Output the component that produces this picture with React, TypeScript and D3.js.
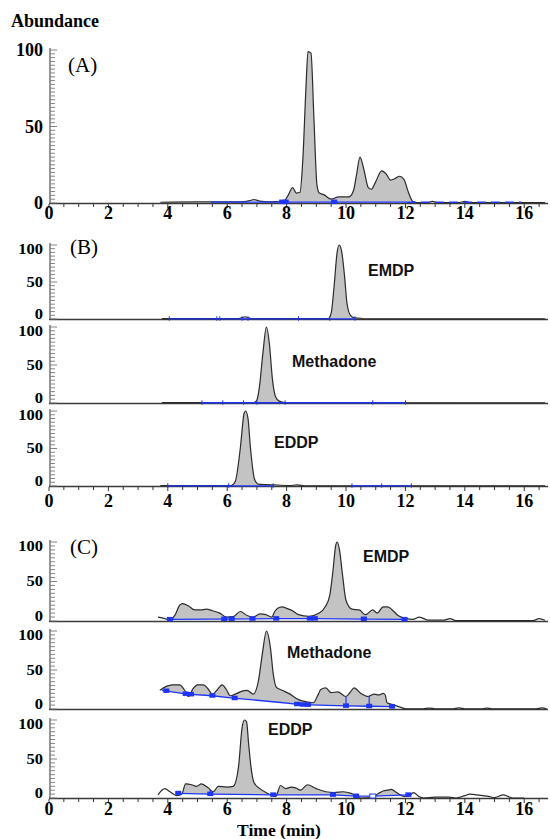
import * as d3 from "d3";

type Pt = [number, number];

// ---- data: retention time (min), abundance (%) ----
const xTicks = [0, 2, 4, 6, 8, 10, 12, 14, 16];
const yTicks = [0, 50, 100];

const traceA: Pt[] = [
  [3.75, 0.5], [5.0, 0.8], [6.5, 0.8], [6.75, 1.5], [6.9, 2.2], [7.1, 1.2], [7.4, 0.8], [7.9, 1],
  [8.05, 5], [8.2, 10], [8.33, 6.5], [8.45, 7], [8.55, 30], [8.65, 75], [8.72, 99], [8.82, 98],
  [8.92, 55], [9.02, 12], [9.1, 6.5], [9.25, 5.5], [9.5, 2.5], [9.75, 4], [10.1, 4], [10.25, 8],
  [10.35, 18], [10.47, 30], [10.6, 22], [10.75, 10], [10.85, 9], [11.0, 14], [11.2, 21], [11.35, 19],
  [11.5, 15], [11.65, 16], [11.8, 17.5], [11.95, 15.5], [12.1, 7], [12.25, 1], [12.4, 0.3],
  [12.75, 0.3], [12.9, 1], [13.1, 0.3], [13.8, 0.3], [14.0, 1], [14.2, 0.3], [16.7, 0.3],
];
const baseA: Pt[][] = [[[5.45, 0.6], [12.05, 0.6]]];
const dashA: Pt[] = [[12.05, 0.5], [15.9, 0.5]];
const marksA = [7.85, 7.97, 9.6];
const fillA = [7.9, 12.35];

const traceB1: Pt[] = [
  [3.8, 0.5], [6.35, 0.5], [6.5, 2], [6.6, 3], [6.7, 2], [6.85, 0.5], [9.4, 0.5], [9.5, 8],
  [9.6, 45], [9.7, 90], [9.77, 100], [9.85, 92], [9.95, 58], [10.03, 22], [10.15, 5], [10.3, 1.5],
  [10.5, 1], [10.6, 0.3], [16.7, 0.3],
];
const baseB1: Pt[][] = [[[4.05, 0.3], [10.3, 0.3]]];
const marksB1 = [4.05, 5.65, 5.75, 6.5, 6.7, 8.4, 9.45, 10.3];
const fillB1 = [9.42, 10.6];

const traceB2: Pt[] = [
  [3.8, 0.5], [6.9, 0.5], [7.0, 4], [7.08, 20], [7.2, 65], [7.32, 100], [7.42, 78], [7.52, 32],
  [7.62, 9], [7.75, 2.5], [7.95, 0.5], [16.7, 0.3],
];
const baseB2: Pt[][] = [[[5.15, 0.3], [12.0, 0.3]]];
const marksB2 = [5.15, 5.85, 6.55, 7.0, 7.95, 10.9, 12.0];
const fillB2 = [6.95, 7.95];

const traceB3: Pt[] = [
  [3.75, 0.5], [6.12, 0.5], [6.27, 6], [6.44, 50], [6.57, 97], [6.62, 100], [6.7, 90], [6.78, 52],
  [6.92, 9], [7.05, 2.5], [7.3, 1.8], [7.6, 1.5], [8.1, 0.5], [8.35, 1.5], [8.6, 0.3], [16.7, 0.3],
];
const baseB3: Pt[][] = [[[4.0, 0.3], [7.55, 0.3]], [[10.2, 0.3], [12.2, 0.3]]];
const marksB3 = [4.0, 6.05, 7.55, 10.2, 11.2, 12.2];
const fillB3 = [6.1, 7.55];

const traceC1: Pt[] = [
  [3.67, 5], [3.9, 3], [4.07, 1], [4.25, 8], [4.4, 20], [4.5, 22], [4.7, 19], [4.9, 14], [5.1, 14],
  [5.3, 15], [5.5, 13], [5.75, 10], [5.97, 5], [6.2, 5.5], [6.44, 12], [6.67, 7], [6.88, 5], [7.1, 9],
  [7.3, 8], [7.5, 5], [7.6, 12], [7.7, 16], [7.85, 18], [8.0, 16], [8.2, 13], [8.4, 8], [8.75, 6],
  [9.1, 10], [9.3, 18], [9.45, 32], [9.55, 60], [9.65, 95], [9.7, 100], [9.78, 90], [9.88, 59],
  [10.0, 26], [10.2, 15], [10.45, 14], [10.65, 8], [10.9, 14], [11.05, 10], [11.25, 18], [11.4, 18],
  [11.53, 15], [11.75, 7], [12.03, 3], [12.25, 2], [12.47, 5], [12.77, 1], [13.3, 1], [13.5, 3],
  [13.7, 0.5], [16.3, 0.5], [16.5, 3], [16.7, 1],
];
const baseC1: Pt[][] = [[[4.07, 2], [7.65, 3], [9.0, 3], [10.6, 2.5], [11.97, 2]]];
const marksC1 = [4.07, 5.9, 6.15, 6.85, 7.65, 8.78, 8.95, 10.6, 11.97];
const fillC1 = [4.07, 12.0];

const traceC2: Pt[] = [
  [3.73, 24], [3.95, 29], [4.15, 31], [4.4, 31], [4.55, 25], [4.7, 16], [4.85, 26], [5.0, 31],
  [5.2, 31], [5.35, 26], [5.5, 19], [5.65, 24], [5.83, 31], [5.97, 25], [6.1, 17], [6.33, 20],
  [6.5, 23], [6.67, 24], [6.88, 19], [7.05, 36], [7.18, 70], [7.32, 100], [7.45, 80], [7.55, 45],
  [7.65, 28], [7.85, 24], [8.07, 20], [8.4, 12], [8.7, 9], [8.9, 8], [9.08, 20], [9.15, 25],
  [9.32, 27], [9.5, 21], [9.72, 22], [10.0, 16], [10.15, 22], [10.27, 27], [10.5, 20], [10.74, 16],
  [10.95, 19], [11.1, 18], [11.25, 20], [11.32, 18], [11.38, 8], [11.63, 5], [11.85, 2], [12.03, 0.3],
  [12.6, 0.3], [12.8, 1.2], [13.0, 0.3], [13.6, 0.3], [13.8, 1.5], [14.0, 0.3], [14.6, 0.3],
  [14.75, 1.2], [14.9, 0.3], [16.4, 0.3], [16.6, 1.5], [16.75, 0.3],
];
const baseC2: Pt[][] = [[[3.8, 24], [4.65, 19], [5.5, 17], [6.2, 14], [7.63, 9], [8.5, 5.5], [10.0, 4], [10.8, 3.5], [11.6, 3]]];
const marksC2 = [3.95, 4.6, 4.78, 5.5, 6.25, 8.35, 8.55, 8.72, 10.0, 10.78, 11.55];
const splitsC2 = [10.0, 10.78];
const fillC2 = [3.8, 11.6];

const traceC3: Pt[] = [
  [3.67, 4], [3.9, 12], [4.07, 8], [4.3, 3], [4.47, 5], [4.6, 18], [4.8, 17], [4.97, 15], [5.13, 18],
  [5.36, 13], [5.53, 8], [5.7, 15], [6.0, 14], [6.2, 15], [6.38, 40], [6.5, 90], [6.58, 100],
  [6.65, 98], [6.72, 70], [6.8, 40], [6.9, 20], [7.1, 12], [7.35, 6], [7.63, 2], [7.8, 16],
  [7.97, 12], [8.15, 14], [8.3, 13], [8.47, 10], [8.7, 17], [9.0, 12], [9.32, 8], [9.6, 7], [9.9, 8],
  [10.17, 6], [10.34, 3], [10.5, 0], [10.9, 1], [11.1, 6], [11.25, 9], [11.4, 10], [11.53, 11],
  [11.7, 7], [11.97, 2], [12.1, 2], [12.27, 7], [12.45, 2], [12.6, 0], [13.0, 1], [13.45, 1],
  [13.7, 0], [14.0, 3], [14.17, 5], [14.4, 4], [14.6, 3], [14.8, 2], [15.0, 0.5], [15.3, 4],
  [15.45, 2], [15.6, 0], [16.0, 0],
];
const baseC3: Pt[][] = [[[4.35, 6], [5.43, 5], [7.55, 4], [9.56, 4], [10.34, 2.5], [10.9, 2.5], [12.1, 4]]];
const marksC3 = [4.35, 5.43, 7.55, 9.56, 10.34, 12.1];
const openMarksC3 = [10.9];
const splitsC3 = [5.43, 9.56];
const fillC3 = [4.35, 12.1];

// ---- layout ----
const W = 550;
const H = 839;
const x = d3.scaleLinear().domain([0, 16.8]).range([49, 548]);
const BLUE = "#1f35f5";
const serif = "'Liberation Serif', 'Times New Roman', serif";
const sans = "'Liberation Sans', Arial, sans-serif";

type Panel = {
  id: string;
  y0: number;
  y100: number;
  trace: Pt[];
  base: Pt[][];
  dash?: Pt[];
  marks: number[];
  openMarks?: number[];
  splits?: number[];
  fill: number[];
  markStyle: "square" | "tick";
  minor: number;
  stacked: boolean; // shares its frame with neighbouring panels
  axisLabelY?: number;
  name?: string;
  nameX?: number;
  nameY?: number;
};

const panels: Panel[] = [
  { id: "A", y0: 203, y100: 50, trace: traceA, base: baseA, dash: dashA, marks: marksA, fill: fillA, markStyle: "square", minor: 2.5, stacked: false, axisLabelY: 219 },
  { id: "B1", y0: 319, y100: 245, trace: traceB1, base: baseB1, marks: marksB1, fill: fillB1, markStyle: "tick", minor: 5, stacked: true, name: "EMDP", nameX: 368, nameY: 276 },
  { id: "B2", y0: 403, y100: 327, trace: traceB2, base: baseB2, marks: marksB2, fill: fillB2, markStyle: "tick", minor: 5, stacked: true, name: "Methadone", nameX: 292, nameY: 367 },
  { id: "B3", y0: 486, y100: 411, trace: traceB3, base: baseB3, marks: marksB3, fill: fillB3, markStyle: "tick", minor: 5, stacked: true, axisLabelY: 507, name: "EDDP", nameX: 274, nameY: 448 },
  { id: "C1", y0: 621, y100: 542, trace: traceC1, base: baseC1, marks: marksC1, fill: fillC1, markStyle: "square", minor: 5, stacked: true, name: "EMDP", nameX: 363, nameY: 562 },
  { id: "C2", y0: 709, y100: 631, trace: traceC2, base: baseC2, marks: marksC2, splits: splitsC2, fill: fillC2, markStyle: "square", minor: 5, stacked: true, name: "Methadone", nameX: 287, nameY: 658 },
  { id: "C3", y0: 798, y100: 720, trace: traceC3, base: baseC3, marks: marksC3, openMarks: openMarksC3, splits: splitsC3, fill: fillC3, markStyle: "square", minor: 5, stacked: true, axisLabelY: 815, name: "EDDP", nameX: 268, nameY: 735 },
];

const letters = [
  { text: "(A)", x: 68, y: 72 },
  { text: "(B)", x: 70, y: 254 },
  { text: "(C)", x: 70, y: 554 },
];

function PanelView({ p }: { p: Panel }) {
  const y = d3.scaleLinear().domain([0, 100]).range([p.y0, p.y100]);
  const allBase = p.base.flat();
  const baseAt = d3.scaleLinear().domain(allBase.map((d) => d[0])).range(allBase.map((d) => d[1])).clamp(true);
  const traceAt = d3.scaleLinear().domain(p.trace.map((d) => d[0])).range(p.trace.map((d) => d[1]));

  const line = d3.line<Pt>().x((d) => x(d[0])).y((d) => y(d[1])).curve(d3.curveMonotoneX);
  const area = d3
    .area<Pt>()
    .x((d) => x(d[0]))
    .y0((d) => y(baseAt(d[0])))
    .y1((d) => y(Math.max(d[1], baseAt(d[0]))))
    .curve(d3.curveMonotoneX);
  const baseLine = d3.line<Pt>().x((d) => x(d[0])).y((d) => y(d[1]));

  const minorTicks = d3.range(0, 100.01, p.minor);
  const xMinor = d3.range(0, 16.51, 0.5);
  const clipId = "clip-" + p.id;
  // stacked panels: squat labels, 0 nudged up and 100 nudged down so neighbours don't collide
  const labelY = (v: number) => (p.stacked ? y(v) + (v === 0 ? -5 : v === 100 ? 4 : 0) : y(v));
  const labelSize = p.stacked ? 16.5 : 18;
  const labelScale = p.stacked ? 0.85 : 1;

  return (
    <g>
      <defs>
        <clipPath id={clipId}>
          <rect x={x(p.fill[0])} y={p.y100 - 10} width={x(p.fill[1]) - x(p.fill[0])} height={p.y0 - p.y100 + 10} />
        </clipPath>
      </defs>
      {/* x axis line */}
      <line x1={49} x2={548} y1={p.y0 + 0.5} y2={p.y0 + 0.5} stroke="#3a3a3a" strokeWidth={1.6} />
      {/* y axis */}
      <line x1={50} x2={50} y1={p.y100 - 2} y2={p.y0} stroke="#555" strokeWidth={1.2} />
      {minorTicks.map((v) => (
        <line key={v} x1={50} x2={v % 50 === 0 ? 57 : 55} y1={y(v)} y2={y(v)} stroke="#777" strokeWidth={0.9} />
      ))}
      {yTicks.map((v) => (
        <text
          key={v}
          transform={`translate(43,${labelY(v)}) scale(1,${labelScale})`}
          dy="0.35em"
          textAnchor="end"
          fontFamily={serif}
          fontWeight="bold"
          fontSize={labelSize}
        >
          {v}
        </text>
      ))}
      {p.axisLabelY !== undefined && (
        <g>
          {xMinor.map((t) => (
            <line key={t} x1={x(t)} x2={x(t)} y1={p.y0 + 1} y2={p.y0 + (t % 2 === 0 ? 5 : 4)} stroke="#333" strokeWidth={1} />
          ))}
          {xTicks.map((t) => (
            <text key={t} x={x(t)} y={p.axisLabelY} textAnchor="middle" fontFamily={serif} fontWeight="bold" fontSize={18}>
              {t}
            </text>
          ))}
        </g>
      )}
      {/* integrated area */}
      <path d={area(p.trace) || ""} fill="#c3c3c3" clipPath={`url(#${clipId})`} />
      {/* chromatogram trace */}
      <path d={line(p.trace) || ""} fill="none" stroke="#2b2b2b" strokeWidth={1.2} />
      {/* baselines */}
      {p.base.map((seg, i) => (
        <path key={i} d={baseLine(seg) || ""} fill="none" stroke={BLUE} strokeWidth={1.3} />
      ))}
      {p.dash && <path d={baseLine(p.dash) || ""} fill="none" stroke={BLUE} strokeWidth={1.3} strokeDasharray="9,5" />}
      {(p.splits || []).map((t) => (
        <line key={t} x1={x(t)} x2={x(t)} y1={y(baseAt(t))} y2={y(traceAt(t))} stroke={BLUE} strokeWidth={1.2} />
      ))}
      {p.marks.map((t, i) =>
        p.markStyle === "tick" ? (
          <line key={i} x1={x(t)} x2={x(t)} y1={y(baseAt(t)) - 2.5} y2={y(baseAt(t)) + 2} stroke={BLUE} strokeWidth={1} />
        ) : (
          <rect key={i} x={x(t) - 3} y={y(baseAt(t)) - 2.5} width={6} height={4.5} fill={BLUE} />
        )
      )}
      {(p.openMarks || []).map((t, i) => (
        <rect key={i} x={x(t) - 3} y={y(baseAt(t)) - 2} width={6} height={4} fill="white" stroke={BLUE} strokeWidth={1} />
      ))}
      {p.name && (
        <text x={p.nameX} y={p.nameY} fontFamily={sans} fontWeight="bold" fontSize={16} fill="#111">
          {p.name}
        </text>
      )}
    </g>
  );
}

export default function App() {
  return (
    <svg width={W} height={H} style={{ position: "absolute", left: 0, top: 0, background: "#fff" }}>
      <rect width={W} height={H} fill="#fff" />
      <text x={11} y={27} fontFamily={serif} fontWeight="bold" fontSize={18}>
        Abundance
      </text>
      {letters.map((l) => (
        <text key={l.text} x={l.x} y={l.y} fontFamily={serif} fontSize={21}>
          {l.text}
        </text>
      ))}
      {panels.map((p) => (
        <PanelView key={p.id} p={p} />
      ))}
      <text x={279} y={836} textAnchor="middle" fontFamily={serif} fontWeight="bold" fontSize={17.5}>
        Time (min)
      </text>
    </svg>
  );
}
